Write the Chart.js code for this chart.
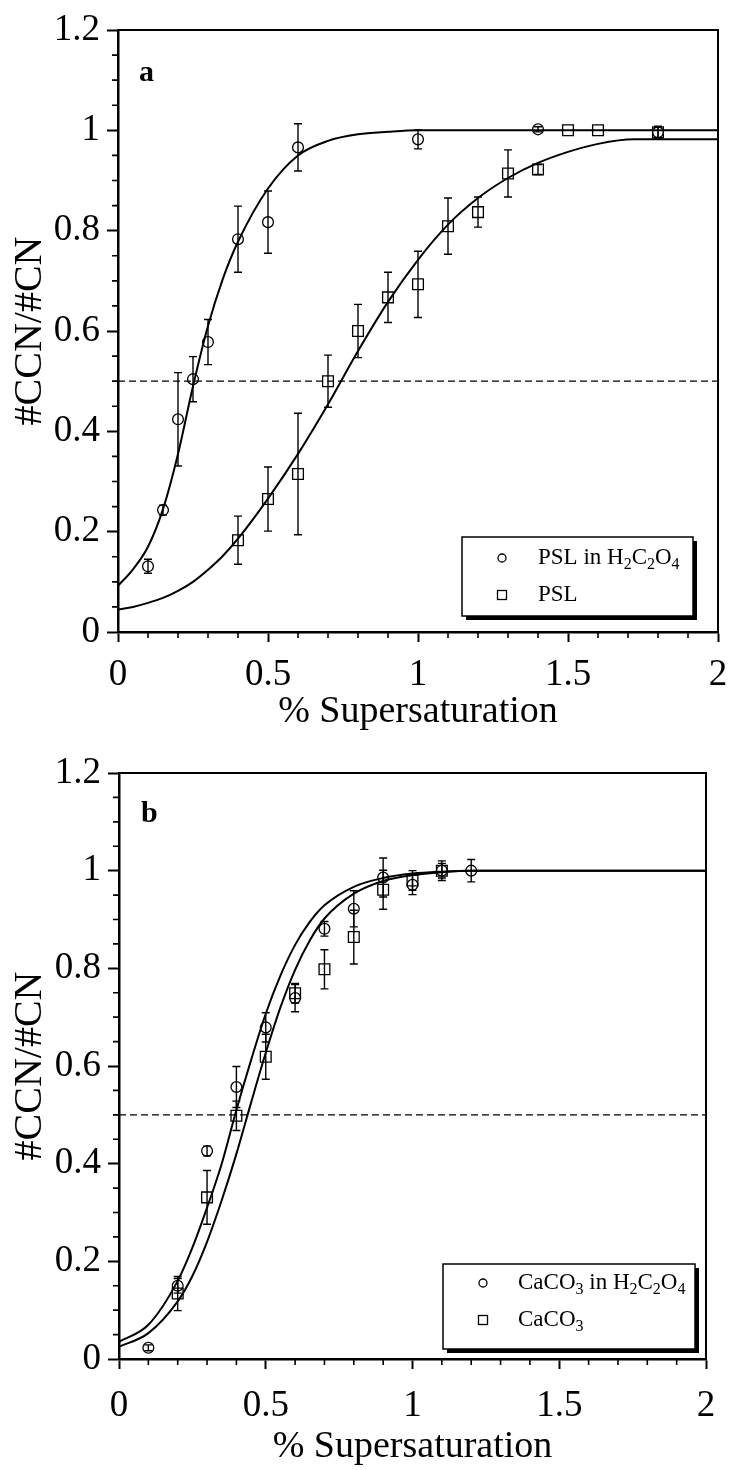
<!DOCTYPE html>
<html><head><meta charset="utf-8">
<script src="https://cdn.jsdelivr.net/npm/chart.js@4.4.0/dist/chart.umd.min.js"></script>
<style>
html,body{margin:0;padding:0;background:#fff;}
.wrap{width:734px;height:735px;position:relative;}
canvas{display:block;}
</style></head><body>
<div class="wrap"><canvas id="ca" width="734" height="735"></canvas></div>
<div class="wrap"><canvas id="cb" width="734" height="735"></canvas></div>
<script>
// ---------- shared axis definitions ----------
const xMajorTicks = [0, 0.5, 1, 1.5, 2];
const xMinorTicks = [0.1,0.2,0.3,0.4,0.6,0.7,0.8,0.9,1.1,1.2,1.3,1.4,1.6,1.7,1.8,1.9];
const yMajorTicks = [0, 0.2, 0.4, 0.6, 0.8, 1, 1.2];
const yMinorTicks = [0.05,0.1,0.15,0.25,0.3,0.35,0.45,0.5,0.55,0.65,0.7,0.75,0.85,0.9,0.95,1.05,1.1,1.15];
const refLevel = 0.5;
const refX = [0, 2];

// ---------- panel a ----------
const aCircX = [0.1, 0.15, 0.2, 0.25, 0.3, 0.4, 0.5, 0.6, 1.0, 1.4, 1.8];
const aCircY = [0.131, 0.243, 0.424, 0.504, 0.578, 0.783, 0.817, 0.966, 0.982, 1.002, 0.996];
const aCircE = [0.014, 0.010, 0.093, 0.045, 0.045, 0.066, 0.062, 0.047, 0.019, 0.005, 0.012];
const aSqX = [0.4, 0.5, 0.6, 0.7, 0.8, 0.9, 1.0, 1.1, 1.2, 1.3, 1.4, 1.5, 1.6, 1.8];
const aSqY = [0.183, 0.265, 0.315, 0.500, 0.600, 0.667, 0.693, 0.809, 0.837, 0.914, 0.922, 1.000, 1.000, 0.996];
const aSqE = [0.048, 0.064, 0.121, 0.052, 0.053, 0.050, 0.066, 0.056, 0.030, 0.047, 0.010, 0, 0, 0.010];
const aFitCircX = [0, 0.05, 0.1, 0.15, 0.2, 0.25, 0.3, 0.35, 0.4, 0.5, 0.6, 0.7, 0.8, 0.9, 1.0, 1.2, 1.5, 2.0];
const aFitCircY = [0.092, 0.125, 0.170, 0.245, 0.355, 0.490, 0.610, 0.705, 0.778, 0.884, 0.950, 0.979, 0.992, 0.997, 1.0, 1.0, 1.0, 1.0];
const aFitSqX = [0, 0.05, 0.1, 0.15, 0.2, 0.25, 0.3, 0.35, 0.4, 0.5, 0.6, 0.7, 0.8, 0.9, 1.0, 1.1, 1.2, 1.3, 1.4, 1.5, 1.6, 1.72, 2.0];
const aFitSqY = [0.045, 0.050, 0.058, 0.068, 0.082, 0.100, 0.124, 0.152, 0.186, 0.266, 0.355, 0.454, 0.560, 0.658, 0.742, 0.812, 0.865, 0.905, 0.935, 0.957, 0.973, 0.982, 0.982];

// ---------- panel b ----------
const bCircX = [0.1, 0.2, 0.3, 0.4, 0.5, 0.6, 0.7, 0.8, 0.9, 1.0, 1.1, 1.2];
const bCircY = [0.023, 0.150, 0.426, 0.557, 0.679, 0.739, 0.881, 0.922, 0.986, 0.971, 1.000, 1.000];
const bCircE = [0.006, 0.015, 0.010, 0.042, 0.030, 0.028, 0.015, 0.037, 0.040, 0.020, 0.020, 0.023];
const bSqX = [0.2, 0.3, 0.4, 0.5, 0.6, 0.7, 0.8, 0.9, 1.0, 1.1];
const bSqY = [0.134, 0.331, 0.498, 0.619, 0.749, 0.798, 0.864, 0.961, 0.980, 1.000];
const bSqE = [0.035, 0.055, 0.030, 0.046, 0.020, 0.040, 0.055, 0.040, 0.020, 0.015];
const bFitCircX = [0, 0.1, 0.2, 0.25, 0.3, 0.35, 0.4, 0.45, 0.5, 0.55, 0.6, 0.65, 0.7, 0.8, 0.9, 1.0, 1.1, 1.2, 2.0];
const bFitCircY = [0.035, 0.070, 0.160, 0.228, 0.310, 0.400, 0.510, 0.612, 0.707, 0.785, 0.848, 0.895, 0.929, 0.967, 0.985, 0.994, 0.998, 1.0, 1.0];
const bFitSqX = [0, 0.1, 0.2, 0.25, 0.3, 0.35, 0.4, 0.45, 0.5, 0.55, 0.6, 0.65, 0.7, 0.8, 0.9, 1.0, 1.1, 1.2, 2.0];
const bFitSqY = [0.025, 0.053, 0.118, 0.170, 0.240, 0.325, 0.420, 0.525, 0.627, 0.720, 0.797, 0.857, 0.902, 0.953, 0.979, 0.991, 0.997, 1.0, 1.0];

const F = '"Liberation Serif", "Times New Roman", serif';
const pts = (xs, ys) => xs.map((x, i) => ({x: x, y: ys[i]}));
const fmt = v => String(Math.round(v * 10) / 10);

function drawRich(ctx, parts, x, y, size) {
  let cx = x;
  for (const [t, sub] of parts) {
    ctx.font = (sub ? Math.round(size * 0.68) : size) + 'px ' + F;
    ctx.fillText(t, cx, sub ? y + size * 0.28 : y);
    cx += ctx.measureText(t).width;
  }
}

function build(id, P) {
  const datasets = [
    {data: pts(refX, [refLevel, refLevel]), showLine: true, borderColor: '#000', borderWidth: 1.4, borderDash: [7, 4], pointRadius: 0},
    {data: pts(P.fitCircX, P.fitCircY), showLine: true, borderColor: '#000', borderWidth: 2, pointRadius: 0, cubicInterpolationMode: 'monotone'},
    {data: pts(P.fitSqX, P.fitSqY), showLine: true, borderColor: '#000', borderWidth: 2, pointRadius: 0, cubicInterpolationMode: 'monotone'},
    {data: pts(P.circX, P.circY), errors: P.circE, showLine: false, pointStyle: 'circle', pointRadius: 5.4, borderColor: '#000', borderWidth: 1.3, backgroundColor: 'rgba(0,0,0,0)'},
    {data: pts(P.sqX, P.sqY), errors: P.sqE, showLine: false, pointStyle: 'rect', pointRadius: 7.6, borderColor: '#000', borderWidth: 1.3, backgroundColor: 'rgba(0,0,0,0)'}
  ];
  const extras = {
    id: 'extras',
    afterDatasetsDraw(chart) {
      const ctx = chart.ctx, xs = chart.scales.x, ys = chart.scales.y;
      ctx.save();
      ctx.strokeStyle = '#000'; ctx.lineWidth = 1.4;
      chart.data.datasets.forEach(d => {
        if (!d.errors) return;
        d.data.forEach((p, i) => {
          const e = d.errors[i]; if (!e) return;
          const px = xs.getPixelForValue(p.x);
          const y1 = ys.getPixelForValue(p.y + e), y2 = ys.getPixelForValue(p.y - e);
          ctx.beginPath();
          ctx.moveTo(px, y1); ctx.lineTo(px, y2);
          ctx.moveTo(px - 4, y1); ctx.lineTo(px + 4, y1);
          ctx.moveTo(px - 4, y2); ctx.lineTo(px + 4, y2);
          ctx.stroke();
        });
      });
      ctx.restore();
    },
    afterDraw(chart) {
      const ctx = chart.ctx, xs = chart.scales.x, ys = chart.scales.y, a = chart.chartArea;
      ctx.save();
      ctx.strokeStyle = '#000';
      ctx.lineWidth = 1.6;
      ctx.beginPath();
      xMinorTicks.forEach(v => { const px = xs.getPixelForValue(v); ctx.moveTo(px, a.bottom); ctx.lineTo(px, a.bottom + 6); });
      yMinorTicks.forEach(v => { const py = ys.getPixelForValue(v); ctx.moveTo(a.left, py); ctx.lineTo(a.left - 6, py); });
      ctx.stroke();
      ctx.lineWidth = 2;
      ctx.beginPath();
      ctx.moveTo(a.left, a.top); ctx.lineTo(a.right, a.top); ctx.lineTo(a.right, a.bottom);
      ctx.stroke();
      ctx.fillStyle = '#000';
      ctx.font = 'bold 30px ' + F;
      ctx.textBaseline = 'alphabetic'; ctx.textAlign = 'left';
      ctx.fillText(P.letter, P.letterX, P.letterY);
      const L = P.leg;
      ctx.fillStyle = '#000';
      ctx.fillRect(L.x + 4, L.y + 4, L.w, L.h);
      ctx.fillStyle = '#fff';
      ctx.fillRect(L.x, L.y, L.w, L.h);
      ctx.lineWidth = 1.5;
      ctx.strokeRect(L.x, L.y, L.w, L.h);
      ctx.lineWidth = 1.3;
      ctx.beginPath(); ctx.arc(L.mx, L.r1, 4, 0, Math.PI * 2); ctx.stroke();
      ctx.strokeRect(L.mx - 4.5, L.r2 - 4.5, 9, 9);
      ctx.fillStyle = '#000';
      ctx.textBaseline = 'middle';
      drawRich(ctx, P.leg1, L.tx, L.r1, 23);
      drawRich(ctx, P.leg2, L.tx, L.r2, 23);
      ctx.restore();
    }
  };
  return new Chart(document.getElementById(id), {
    type: 'scatter',
    data: {datasets: datasets},
    options: {
      responsive: false, animation: false, devicePixelRatio: 1,
      layout: {padding: {left: 0, top: P.top, right: P.right, bottom: 0}},
      plugins: {legend: {display: false}, tooltip: {enabled: false}},
      scales: {
        x: {
          type: 'linear', min: 0, max: 2,
          afterFit: s => { s.height = P.xH; s.paddingLeft = 0; s.paddingRight = 0; },
          afterBuildTicks: s => { s.ticks = xMajorTicks.map(v => ({value: v})); },
          ticks: {font: {family: F, size: 37}, color: '#000', padding: P.xPad, maxRotation: 0, autoSkip: false, callback: v => fmt(v)},
          grid: {drawOnChartArea: false, drawTicks: true, tickLength: 10, tickWidth: 2, tickColor: '#000'},
          border: {display: true, color: '#000', width: 2.5},
          title: {display: true, text: '% Supersaturation', font: {family: F, size: 38}, color: '#000', padding: {top: 0, bottom: P.xTitlePad}}
        },
        y: {
          type: 'linear', min: 0, max: 1.2,
          afterFit: s => { s.width = P.yW; s.paddingTop = 0; s.paddingBottom = 0; },
          afterBuildTicks: s => { s.ticks = yMajorTicks.map(v => ({value: v})); },
          ticks: {font: {family: F, size: 37}, color: '#000', padding: 7, autoSkip: false, callback: v => fmt(v)},
          grid: {drawOnChartArea: false, drawTicks: true, tickLength: 11, tickWidth: 2, tickColor: '#000'},
          border: {display: true, color: '#000', width: 2.5},
          title: {display: true, text: '#CCN/#CN', font: {family: F, size: 40}, color: '#000', padding: {top: 6, bottom: 0}}
        }
      }
    },
    plugins: [extras]
  });
}

build('ca', {
  circX: aCircX, circY: aCircY, circE: aCircE, sqX: aSqX, sqY: aSqY, sqE: aSqE,
  fitCircX: aFitCircX, fitCircY: aFitCircY, fitSqX: aFitSqX, fitSqY: aFitSqY,
  top: 30, right: 16, yW: 118, xH: 103, xPad: 11, xTitlePad: 0,
  letter: 'a', letterX: 139, letterY: 81,
  leg: {x: 462, y: 537, w: 231, h: 79, mx: 502, r1: 558, r2: 595, tx: 538},
  leg1: [['PSL in H', 0], ['2', 1], ['C', 0], ['2', 1], ['O', 0], ['4', 1]],
  leg2: [['PSL', 0]]
});
build('cb', {
  circX: bCircX, circY: bCircY, circE: bCircE, sqX: bSqX, sqY: bSqY, sqE: bSqE,
  fitCircX: bFitCircX, fitCircY: bFitCircY, fitSqX: bFitSqX, fitSqY: bFitSqY,
  top: 38, right: 28, yW: 119, xH: 111, xPad: 15, xTitlePad: 0,
  letter: 'b', letterX: 141, letterY: 87,
  leg: {x: 443, y: 529, w: 252, h: 85, mx: 483, r1: 548, r2: 585, tx: 518},
  leg1: [['CaCO', 0], ['3', 1], [' in H', 0], ['2', 1], ['C', 0], ['2', 1], ['O', 0], ['4', 1]],
  leg2: [['CaCO', 0], ['3', 1]]
});
</script>
</body></html>
